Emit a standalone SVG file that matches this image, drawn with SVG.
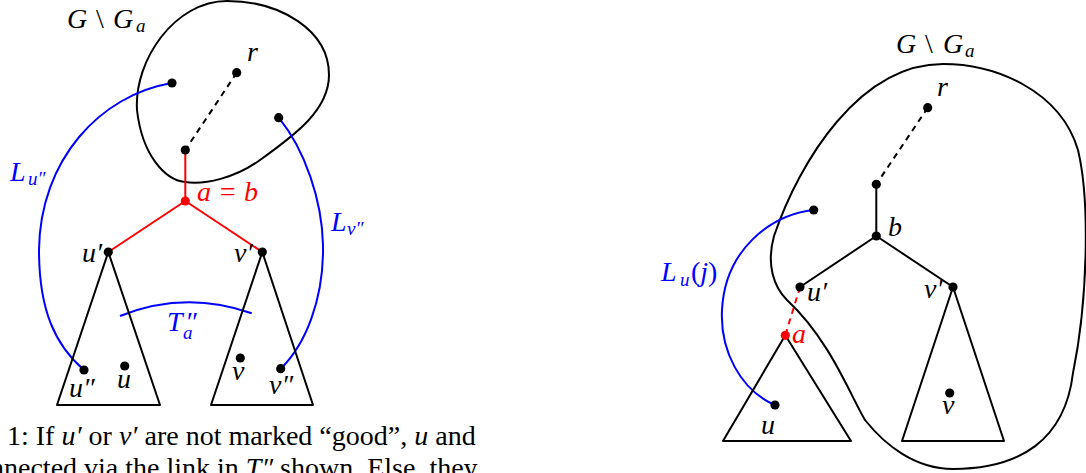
<svg xmlns="http://www.w3.org/2000/svg" width="1086" height="473" viewBox="0 0 1086 473">
<style>
.ln{fill:none;stroke:#000;stroke-width:2;stroke-linejoin:round}
.red{fill:none;stroke:#f00;stroke-width:2}
.blue{fill:none;stroke:#00f;stroke-width:2}
.dash{stroke-dasharray:6 5}
.dot{fill:#000}
.rdot{fill:#f00}
.m{font-family:"Liberation Serif","Times New Roman",serif;font-style:italic;font-size:28px;fill:#000}
.up{font-style:normal}
.sub{font-size:19px}
.bt{fill:#00f}
.rt{fill:#f00}
.cap{font-family:"Liberation Serif","Times New Roman",serif;font-size:28px;fill:#000}
.i{font-style:italic}
</style>
<rect width="1086" height="473" fill="#fff"/>

<!-- LEFT DIAGRAM -->
<g id="blobL">
<path class="ln" d="M227,1 C280,1 329,30 329,75 C329,110 295,135 260,160 C235,178 205,185 185,182 C165,180 142,155 137,110 C134,60 175,1 227,1 Z"/>
<text class="m" x="67" y="28">G<tspan class="up" x="96">\</tspan><tspan x="113">G</tspan><tspan class="sub" x="136" dy="4">a</tspan></text>
</g>
<g id="connectorsL">
<path class="ln dash" d="M236.7,72.7 L185.3,150"/>
<path class="red" d="M185.3,150 L185.3,201 M185.3,201 L108.3,252 M185.3,201 L262.3,252"/>
<path class="blue" d="M172,83 C100,95 40,160 39,250 C39,310 55,345 84,370"/>
<path class="blue" d="M278.7,117.7 C305,150 322,200 323,245 C324,300 305,345 280.7,368.7"/>
<path class="blue" d="M120,316 Q185,290 251.7,313.3"/>
</g>
<g id="nodeL-r"><circle class="dot" cx="236.7" cy="72.7" r="4.6"/><text class="m" x="247" y="61">r</text></g>
<g id="nodeL-x"><circle class="dot" cx="172" cy="83" r="4.6"/></g>
<g id="nodeL-y"><circle class="dot" cx="278.7" cy="117.7" r="4.6"/></g>
<g id="nodeL-c"><circle class="dot" cx="185.3" cy="150" r="4.6"/></g>
<g id="nodeL-ab"><circle class="rdot" cx="185.3" cy="201" r="4.6"/><text class="m rt" x="197" y="201">a = b</text></g>
<g id="nodeL-u1"><polygon class="ln" points="108.3,252 57,405 160,405"/><circle class="dot" cx="108.3" cy="252" r="4.6"/><text class="m" x="82" y="262">u′</text></g>
<g id="nodeL-v1"><polygon class="ln" points="262.3,252 211,405 313,405"/><circle class="dot" cx="262.3" cy="252" r="4.6"/><text class="m" x="234" y="262">v′</text></g>
<g id="nodeL-u2"><circle class="dot" cx="84" cy="370" r="4.6"/><text class="m" x="69" y="397">u″</text></g>
<g id="nodeL-u"><circle class="dot" cx="124.7" cy="366" r="4.6"/><text class="m" x="117" y="388">u</text></g>
<g id="nodeL-v"><circle class="dot" cx="240.3" cy="358" r="4.6"/><text class="m" x="232" y="380">v</text></g>
<g id="nodeL-v2"><circle class="dot" cx="280.7" cy="368.7" r="4.6"/><text class="m" x="269" y="394">v″</text></g>
<g id="labelsL">
<text class="m bt" x="10" y="181">L<tspan class="sub" x="28" dy="4">u″</tspan></text>
<text class="m bt" x="331" y="231">L<tspan class="sub" x="347" dy="4">v″</tspan></text>
<text class="m bt" x="167" y="331">T<tspan x="185">″</tspan><tspan class="sub" x="183" dy="8">a</tspan></text>
</g>

<!-- CAPTION -->
<g id="caption">
<text class="cap" x="7" y="445">1: If <tspan class="i">u′</tspan> or <tspan class="i">v′</tspan> are not marked “good”, <tspan class="i">u</tspan> and</text>
<text class="cap" x="-10" y="477">nnected via the link in <tspan class="i">T″</tspan> shown. Else, they</text>
</g>

<!-- RIGHT DIAGRAM -->
<g id="blobR">
<path class="ln" d="M943,64 C995,64 1060,90 1078,150 C1090,200 1088,300 1073,373 C1065,440 1020,469 953,469 C915,469 885,445 865,420 C850,395 830,340 787,300 C774,287 766,265 774,236 C800,160 860,64 943,64 Z"/>
<text class="m" x="896" y="53">G<tspan class="up" x="925">\</tspan><tspan x="943">G</tspan><tspan class="sub" x="965" dy="4">a</tspan></text>
</g>
<g id="connectorsR">
<path class="ln dash" d="M927.7,107.7 L876.3,184.3"/>
<path class="ln" d="M876.3,184.3 L876.3,236 M876.3,236 L800,287 M876.3,236 L953,287"/>
<path class="red dash" d="M800,287 L785.3,335.3"/>
<path class="blue" d="M813.7,210 C770,215 725,250 722,310 C720,350 740,390 775,405"/>
</g>
<g id="nodeR-r"><circle class="dot" cx="927.7" cy="107.7" r="4.6"/><text class="m" x="937" y="96">r</text></g>
<g id="nodeR-c"><circle class="dot" cx="876.3" cy="184.3" r="4.6"/></g>
<g id="nodeR-x"><circle class="dot" cx="813.7" cy="210" r="4.6"/></g>
<g id="nodeR-b"><circle class="dot" cx="876.3" cy="236" r="4.6"/><text class="m" x="888" y="236">b</text></g>
<g id="nodeR-u1"><circle class="dot" cx="800" cy="287" r="4.6"/><text class="m" x="807" y="301">u′</text></g>
<g id="nodeR-a"><polygon class="ln" points="785.3,335.3 723,441 851,441"/><circle class="rdot" cx="785.3" cy="335.3" r="4.6"/><text class="m rt" x="792" y="343">a</text></g>
<g id="nodeR-v1"><polygon class="ln" points="953,287 902,441 1004,441"/><circle class="dot" cx="953" cy="287" r="4.6"/><text class="m" x="924" y="298">v′</text></g>
<g id="nodeR-u"><circle class="dot" cx="775" cy="405" r="4.6"/><text class="m" x="761" y="434">u</text></g>
<g id="nodeR-v"><circle class="dot" cx="949.7" cy="393" r="4.6"/><text class="m" x="942" y="414">v</text></g>
<g id="labelsR">
<text class="m bt" x="661" y="281">L<tspan class="sub" x="680" dy="5">u</tspan><tspan class="up" x="691" dy="-5">(</tspan>j<tspan class="up">)</tspan></text>
</g>
</svg>
